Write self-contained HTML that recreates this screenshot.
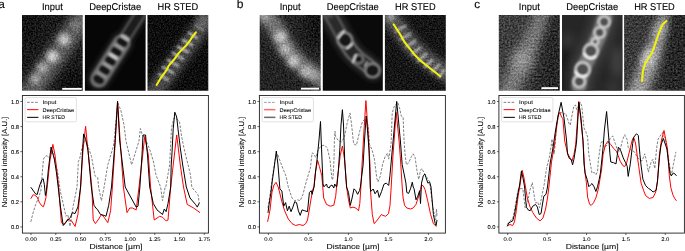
<!DOCTYPE html>
<html><head><meta charset="utf-8"><style>
html,body{margin:0;padding:0;background:#fff;width:685px;height:251px;overflow:hidden}
svg{display:block}
text{font-family:"Liberation Sans",sans-serif}
</style></head><body>
<svg xmlns="http://www.w3.org/2000/svg" width="685" height="251" viewBox="0 0 685 251">
<defs>
<clipPath id="clip22"><rect x="22.4" y="95.5" width="186.0" height="137.6"/></clipPath>
<clipPath id="clip259"><rect x="259.4" y="95.5" width="186.0" height="137.6"/></clipPath>
<clipPath id="clip498"><rect x="498.9" y="95.5" width="185.5" height="137.6"/></clipPath>
<filter id="b0_6" x="-50%" y="-50%" width="200%" height="200%"><feGaussianBlur stdDeviation="0.6"/></filter>
<filter id="b0_7" x="-50%" y="-50%" width="200%" height="200%"><feGaussianBlur stdDeviation="0.7"/></filter>
<filter id="b0_8" x="-50%" y="-50%" width="200%" height="200%"><feGaussianBlur stdDeviation="0.8"/></filter>
<filter id="b0_9" x="-50%" y="-50%" width="200%" height="200%"><feGaussianBlur stdDeviation="0.9"/></filter>
<filter id="b1" x="-50%" y="-50%" width="200%" height="200%"><feGaussianBlur stdDeviation="1"/></filter>
<filter id="b1_2" x="-50%" y="-50%" width="200%" height="200%"><feGaussianBlur stdDeviation="1.2"/></filter>
<filter id="b1_5" x="-50%" y="-50%" width="200%" height="200%"><feGaussianBlur stdDeviation="1.5"/></filter>
<filter id="b2" x="-50%" y="-50%" width="200%" height="200%"><feGaussianBlur stdDeviation="2"/></filter>
<filter id="b2_5" x="-50%" y="-50%" width="200%" height="200%"><feGaussianBlur stdDeviation="2.5"/></filter>
<filter id="b3" x="-50%" y="-50%" width="200%" height="200%"><feGaussianBlur stdDeviation="3"/></filter>
<filter id="b3_5" x="-50%" y="-50%" width="200%" height="200%"><feGaussianBlur stdDeviation="3.5"/></filter>
<filter id="b4" x="-50%" y="-50%" width="200%" height="200%"><feGaussianBlur stdDeviation="4"/></filter>
<filter id="b4_5" x="-50%" y="-50%" width="200%" height="200%"><feGaussianBlur stdDeviation="4.5"/></filter>
<filter id="b5" x="-50%" y="-50%" width="200%" height="200%"><feGaussianBlur stdDeviation="5"/></filter>
<filter id="b5_5" x="-50%" y="-50%" width="200%" height="200%"><feGaussianBlur stdDeviation="5.5"/></filter>
<filter id="b6" x="-50%" y="-50%" width="200%" height="200%"><feGaussianBlur stdDeviation="6"/></filter>
<filter id="b7" x="-50%" y="-50%" width="200%" height="200%"><feGaussianBlur stdDeviation="7"/></filter>
<filter id="b8" x="-50%" y="-50%" width="200%" height="200%"><feGaussianBlur stdDeviation="8"/></filter>
<filter id="nz1" filterUnits="userSpaceOnUse" x="0" y="0" width="685" height="251" color-interpolation-filters="sRGB"><feTurbulence type="fractalNoise" baseFrequency="0.6" numOctaves="2" seed="3" result="t"/><feColorMatrix in="t" type="matrix" values="1 0 0 0 0  1 0 0 0 0  1 0 0 0 0  0 0 0 0 0.5" result="g"/><feComposite in="SourceGraphic" in2="g" operator="arithmetic" k1="0" k2="1" k3="0.76" k4="-0.19"/></filter>
<filter id="nz2" filterUnits="userSpaceOnUse" x="0" y="0" width="685" height="251" color-interpolation-filters="sRGB"><feTurbulence type="fractalNoise" baseFrequency="0.65" numOctaves="2" seed="7" result="t"/><feColorMatrix in="t" type="matrix" values="1 0 0 0 0  1 0 0 0 0  1 0 0 0 0  0 0 0 0 0.5" result="g"/><feComposite in="SourceGraphic" in2="g" operator="arithmetic" k1="0" k2="1" k3="0.68" k4="-0.17"/></filter>
<filter id="nz3" filterUnits="userSpaceOnUse" x="0" y="0" width="685" height="251" color-interpolation-filters="sRGB"><feTurbulence type="fractalNoise" baseFrequency="0.55" numOctaves="2" seed="11" result="t"/><feColorMatrix in="t" type="matrix" values="1 0 0 0 0  1 0 0 0 0  1 0 0 0 0  0 0 0 0 0.5" result="g"/><feComposite in="SourceGraphic" in2="g" operator="arithmetic" k1="0" k2="1" k3="0.9" k4="-0.225"/></filter><clipPath id="ica1"><rect x="22" y="15" width="60.70" height="75.70"/></clipPath><clipPath id="ica2"><rect x="84.9" y="15" width="60.70" height="75.70"/></clipPath><clipPath id="ica3"><rect x="147.5" y="15" width="60.80" height="75.70"/></clipPath><clipPath id="icb1"><rect x="259.7" y="15" width="61.00" height="75.70"/></clipPath><clipPath id="icb2"><rect x="322.8" y="15" width="60.00" height="75.70"/></clipPath><clipPath id="icb3"><rect x="384.9" y="15" width="60.90" height="75.70"/></clipPath><clipPath id="icc1"><rect x="498.8" y="15" width="61.00" height="75.70"/></clipPath><clipPath id="icc2"><rect x="562" y="15" width="60.50" height="75.70"/></clipPath><clipPath id="icc3"><rect x="624.1" y="15" width="61.40" height="75.70"/></clipPath>
<filter id="tb" x="-5%" y="-5%" width="110%" height="110%"><feGaussianBlur stdDeviation="0.3"/></filter>
</defs>
<rect width="685" height="251" fill="#fff"/>
<g clip-path="url(#ica1)"><g filter="url(#nz1)"><rect x="20" y="13" width="64.70" height="79.70" fill="#1a1a1a"/><g filter="url(#b4_5)"><line x1="27" y1="97" x2="88" y2="10" stroke="#5e5e5e" stroke-width="21" stroke-linecap="round"/></g><g filter="url(#b2_5)" fill="#c4c4c4"><circle cx="64" cy="39.5" r="6"/><circle cx="52.5" cy="56.5" r="6" fill="#d0d0d0"/><circle cx="42.5" cy="68" r="5.5" fill="#acacac"/><circle cx="35.5" cy="79" r="5" fill="#a8a8a8"/><circle cx="76" cy="25" r="5" fill="#7a7a7a"/></g><g filter="url(#b6)"><rect x="64" y="74" width="30" height="30" fill="#000" opacity="0.5"/><rect x="14" y="8" width="22" height="30" fill="#000" opacity="0.3"/></g></g></g><g clip-path="url(#ica2)"><g><rect x="82.9" y="13" width="64.70" height="79.70" fill="#060606"/><g transform="translate(98.6,79.5) rotate(-57.6)"><g filter="url(#b2_5)"><rect x="-10" y="-11" width="64" height="22" rx="11" fill="#262626"/><rect x="44" y="-8" width="42" height="16" rx="8" fill="#222"/></g><g filter="url(#b0_8)"><rect x="46" y="-6" width="40" height="12" rx="6" fill="#5a5a5a"/><rect x="48" y="-4.2" width="40" height="8.4" rx="4.2" fill="#1c1c1c"/><rect x="-8" y="-8.6" width="60" height="17.2" rx="8.6" fill="#767676"/><ellipse cx="0" cy="0" rx="4.4" ry="6.2" fill="#141414"/><ellipse cx="11" cy="0" rx="4.4" ry="6.2" fill="#141414"/><ellipse cx="22" cy="0" rx="4.4" ry="6.2" fill="#141414"/><ellipse cx="33" cy="0" rx="4.4" ry="6.2" fill="#141414"/><ellipse cx="44" cy="0" rx="4.4" ry="6.2" fill="#141414"/><ellipse cx="5.5" cy="0" rx="1.2" ry="5.6" fill="#a0a0a0"/><ellipse cx="16.5" cy="0" rx="1.2" ry="5.6" fill="#b4b4b4"/><ellipse cx="27.5" cy="0" rx="1.2" ry="5.6" fill="#f4f4f4"/><ellipse cx="38.5" cy="0" rx="1.2" ry="5.6" fill="#b0b0b0"/><ellipse cx="49.3" cy="0" rx="1.2" ry="5.6" fill="#d0d0d0"/></g></g></g></g><g clip-path="url(#ica3)"><g filter="url(#nz2)"><rect x="145.5" y="13" width="64.80" height="79.70" fill="#0e0e0e"/><g filter="url(#b3_5)"><line x1="151" y1="97" x2="214" y2="10" stroke="#4a4a4a" stroke-width="18" stroke-linecap="round"/></g><g filter="url(#b1_2)" stroke="#b4b4b4" stroke-width="2.6" stroke-linecap="round"><line x1="159" y1="74" x2="168" y2="80"/><line x1="163" y1="67" x2="173" y2="73"/><line x1="168" y1="60" x2="178" y2="66"/><line x1="173" y1="53" x2="183" y2="59"/><line x1="178" y1="47" x2="188" y2="52"/><line x1="183" y1="40" x2="192" y2="45"/><line x1="189" y1="33" x2="197" y2="38"/><line x1="196" y1="25" x2="203" y2="30" stroke="#888"/></g><g filter="url(#b3)"><circle cx="203" cy="21" r="6" fill="#6a6a6a"/></g></g></g><polyline points="156.6,85 161.2,77.3 164.7,72.7 167,69.3 168.6,65.8 171.6,62.3 174.6,58.9 176.2,56.6 178.6,53.1 182,49.6 186.6,45 190.1,40.4 193.1,35.8 195.9,32.3" fill="none" stroke="#f2f20a" stroke-width="2" stroke-linejoin="round" stroke-linecap="round"/><g clip-path="url(#icb1)"><g filter="url(#nz1)"><rect x="257.7" y="13" width="65.00" height="79.70" fill="#242424"/><g filter="url(#b3_5)"><polyline points="262,10 276,28 286,48 300,64 322,80" fill="none" stroke="#747474" stroke-width="17" stroke-linecap="round" stroke-linejoin="round"/></g><g filter="url(#b2_5)" fill="#c4c4c4"><circle cx="280.5" cy="37" r="6"/><circle cx="285.5" cy="49.5" r="5.5" fill="#b8b8b8"/><circle cx="293.5" cy="61" r="6"/><circle cx="306" cy="71.5" r="6" fill="#b4b4b4"/><circle cx="314" cy="75" r="4.5" fill="#a8a8a8"/><circle cx="265" cy="16" r="5" fill="#a0a0a0"/></g><g filter="url(#b6)"><rect x="306" y="6" width="30" height="40" fill="#000" opacity="0.45"/></g></g></g><g clip-path="url(#icb2)"><g><rect x="320.8" y="13" width="64.00" height="79.70" fill="#0a0a0a"/><g filter="url(#b2_5)"><polyline points="328,11 336,25 344,40 352,52 359,59 366,64 373,70" fill="none" stroke="#262626" stroke-width="22" stroke-linecap="round" stroke-linejoin="round"/></g><g filter="url(#b0_9)"><polyline points="328,11 336,25 344,40" fill="none" stroke="#606060" stroke-width="13" stroke-linecap="round" stroke-linejoin="round"/><polyline points="328,11 336,25 344,40" fill="none" stroke="#2a2a2a" stroke-width="9.5" stroke-linecap="round" stroke-linejoin="round"/><polyline points="344,40 352,52 359,59 366,64 373,70" fill="none" stroke="#747474" stroke-width="15" stroke-linecap="round" stroke-linejoin="round"/><polyline points="344,40 352,52 359,59 366,64 373,70" fill="none" stroke="#262626" stroke-width="11.5" stroke-linecap="round" stroke-linejoin="round"/><ellipse cx="372.5" cy="70.5" rx="8.3" ry="8" fill="#8a8a8a"/><ellipse cx="372.5" cy="70.5" rx="6.3" ry="6" fill="#141414"/><ellipse cx="345" cy="40" rx="9" ry="8.3" fill="#909090" transform="rotate(55 345 40)"/><ellipse cx="345" cy="40" rx="7" ry="6.3" fill="#121212" transform="rotate(55 345 40)"/><ellipse cx="358.5" cy="59" rx="5.6" ry="5.2" fill="#808080"/><ellipse cx="358.5" cy="59" rx="3.8" ry="3.5" fill="#141414"/></g><g filter="url(#b0_8)" stroke="#d8d8d8" stroke-width="2.2" fill="none" stroke-linecap="round"><line x1="338.5" y1="38" x2="344" y2="31"/><line x1="347" y1="48.5" x2="352" y2="44"/><line x1="353" y1="62" x2="356" y2="55"/><line x1="365" y1="66" x2="367" y2="62" stroke="#a0a0a0"/></g><g filter="url(#b2)"><circle cx="329" cy="14" r="4" fill="#5a5a5a"/></g></g></g><g clip-path="url(#icb3)"><g filter="url(#nz2)"><rect x="382.9" y="13" width="64.90" height="79.70" fill="#161616"/><g filter="url(#b3)"><polyline points="386,12 400,30 413,47 427,60 447,74" fill="none" stroke="#555" stroke-width="17" stroke-linecap="round" stroke-linejoin="round"/></g><g filter="url(#b1_2)" stroke="#b0b0b0" stroke-width="2.5" stroke-linecap="round"><line x1="396" y1="31" x2="405" y2="26"/><line x1="401" y1="39" x2="410" y2="34"/><line x1="406" y1="47" x2="415" y2="41"/><line x1="412" y1="54" x2="420" y2="48"/><line x1="418" y1="61" x2="426" y2="54"/><line x1="425" y1="67" x2="432" y2="60"/><line x1="432" y1="72" x2="439" y2="65"/><line x1="439" y1="77" x2="444" y2="70"/></g><g filter="url(#b2)"><circle cx="391" cy="17" r="4" fill="#a0a0a0"/></g></g></g><polyline points="393.6,24.4 399.5,33.3 404.6,42.2 409.7,48.6 414.8,55 419.9,60.1 426.3,65.2 432.6,70.3 440.3,76.2" fill="none" stroke="#f2f20a" stroke-width="2" stroke-linejoin="round" stroke-linecap="round"/><g clip-path="url(#icc1)"><g filter="url(#nz3)"><rect x="496.8" y="13" width="65.00" height="79.70" fill="#3e3e3e"/><g filter="url(#b5)"><line x1="506" y1="96" x2="548" y2="8" stroke="#7c7c7c" stroke-width="18" stroke-linecap="round"/></g><g filter="url(#b6)"><polygon points="551,10 570,10 570,95 532,95" fill="#282828"/><circle cx="521" cy="60" r="8" fill="#a4a4a4"/></g></g></g><g clip-path="url(#icc2)"><g><rect x="560" y="13" width="64.50" height="79.70" fill="#262626"/><g filter="url(#b4)"><polyline points="578,96 580,80 584,67 592,51 600,33 606,14" fill="none" stroke="#3c3c3c" stroke-width="26" stroke-linecap="round" stroke-linejoin="round"/><circle cx="568" cy="40" r="6" fill="#3a3a3a"/><ellipse cx="617" cy="62" rx="6" ry="16" fill="#424242"/><circle cx="613" cy="88" r="6" fill="#3a3a3a"/><rect x="562" y="50" width="7" height="45" fill="#141414"/></g><g filter="url(#b1_5)"><polyline points="579,86 581,76 584,67 592,51 600,33 605,17" fill="none" stroke="#7a7a7a" stroke-width="15" stroke-linecap="round" stroke-linejoin="round"/></g><g filter="url(#b0_9)" fill="#505050" stroke="#cfcfcf" stroke-width="2.4"><circle cx="604.2" cy="21.8" r="5.6"/><circle cx="599.6" cy="32.6" r="5.2"/><circle cx="590.8" cy="51" r="7"/><circle cx="582.6" cy="69.5" r="7.2"/><circle cx="579.2" cy="81.6" r="5.8"/><circle cx="595.2" cy="41.6" r="3.4"/></g><g filter="url(#b1)" fill="none" stroke="#f4f4f4" stroke-width="2.2"><path d="M584,53 A7,7 0 0 0 596,56"/><path d="M575.5,71 A7.2,7.2 0 0 0 587,75"/></g></g></g><g clip-path="url(#icc3)"><g filter="url(#nz3)"><rect x="622.1" y="13" width="65.40" height="79.70" fill="#3a3a3a"/><g filter="url(#b4)"><line x1="636" y1="96" x2="672" y2="10" stroke="#9a9a9a" stroke-width="18" stroke-linecap="round"/></g><g filter="url(#b5)"><polygon points="669,8 690,8 690,95 661,95" fill="#262626"/></g><g filter="url(#b3)"><ellipse cx="648" cy="58" rx="6" ry="11" fill="#c0c0c0" transform="rotate(25 648 58)"/><ellipse cx="660" cy="30" rx="5" ry="9" fill="#a8a8a8" transform="rotate(25 660 30)"/></g></g></g><polyline points="642,81.3 642.5,74.8 643.4,68.8 645.5,62.8 648.5,58.3 651.5,53.8 653.9,47.9 656.3,40.4 658.4,34.4 660.8,28.4 662.9,24 666.5,21" fill="none" stroke="#f2f20a" stroke-width="2" stroke-linejoin="round" stroke-linecap="round"/><rect x="62.2" y="87.9" width="19.6" height="1.9" fill="#fff"/><rect x="301" y="87.7" width="18" height="1.9" fill="#fff"/><rect x="541.4" y="87.2" width="16.6" height="1.9" fill="#fff"/>
<g clip-path="url(#clip22)">
<polyline points="30.8,221.8 33.0,213.0 35.7,204.4 38.5,198.0 41.0,190.0 42.5,170.0 43.5,159.0 45.0,156.5 47.0,155.7 49.0,157.5 50.5,156.0 52.0,150.0 53.5,152.0 55.0,161.0 56.8,168.5 58.6,177.6 59.5,187.0 60.5,192.0 63.0,203.0 66.0,216.3 67.8,214.5 70.0,226.4 73.3,205.3 77.0,187.0 78.4,161.4 79.6,159.0 82.0,148.0 84.5,140.0 86.7,142.0 89.1,149.5 91.5,156.7 93.0,165.0 95.0,175.8 97.7,177.6 98.6,187.0 101.4,200.7 104.1,187.0 107.8,164.8 113.3,146.5 114.2,141.0 116.0,120.0 117.8,102.5 121.0,111.0 124.0,125.0 126.0,141.0 131.6,164.8 139.0,141.0 140.4,128.5 142.0,134.1 144.3,137.3 147.0,143.0 149.5,148.8 153.3,161.0 156.0,174.9 160.6,187.0 162.5,200.7 163.5,195.0 165.2,187.0 165.8,187.0 169.6,165.0 171.5,128.0 174.0,118.0 177.0,119.0 179.5,122.0 181.6,136.3 183.5,146.0 185.8,155.8 188.6,166.9 190.5,175.0 191.8,187.0 194.5,190.7 196.4,192.5 198.2,195.2 199.1,202.6" fill="none" stroke="#7f7f7f" stroke-width="1.0" stroke-linejoin="round" stroke-dasharray="2.6,1.4"/>
<polyline points="30.8,198.7 33.2,194.7 34.8,195.2 37.2,197.1 39.5,202.7 41.9,205.9 43.5,206.7 45.1,201.0 45.9,197.9 47.5,184.3 50.0,160.0 52.9,144.4 55.0,155.0 57.0,172.0 58.6,187.0 61.4,222.7 64.1,224.5 67.8,219.0 71.5,220.9 75.1,226.4 77.9,214.5 80.6,187.0 83.0,150.0 85.6,126.3 87.0,141.0 91.8,187.0 93.2,220.0 95.4,223.6 98.7,219.0 101.4,214.5 104.1,217.2 107.8,222.7 110.6,210.8 112.4,187.0 115.3,141.0 117.6,101.4 120.2,141.0 123.4,187.0 127.0,212.6 129.8,208.0 132.5,208.0 136.2,209.9 139.0,187.0 142.7,155.0 144.7,136.5 148.3,155.0 150.6,187.0 154.2,220.0 157.0,218.1 159.7,216.3 162.5,217.2 166.1,220.9 168.0,220.0 170.7,187.0 173.2,165.0 176.7,134.9 180.3,165.0 183.5,187.0 187.2,204.4 193.6,208.0 200.0,212.6" fill="none" stroke="#ff0000" stroke-width="1.0" stroke-linejoin="round"/>
<polyline points="30.8,187.2 35.6,193.9 37.2,194.5 39.5,186.0 41.9,179.6 43.2,178.8 44.3,184.3 45.4,195.5 46.4,190.7 48.3,170.0 51.1,147.0 54.5,160.0 56.5,173.0 58.2,187.0 60.5,207.0 63.2,225.5 67.8,220.0 70.5,217.2 72.4,212.6 75.0,213.6 77.9,207.0 80.6,187.0 82.3,155.0 83.6,133.9 85.6,138.7 88.0,150.7 91.3,187.0 94.0,205.3 95.9,208.0 97.7,209.9 100.5,214.5 104.1,215.4 106.0,216.3 108.7,205.3 111.5,187.0 115.1,141.0 117.5,101.4 119.7,141.0 125.2,187.0 136.2,207.1 138.0,206.2 139.9,187.0 142.0,155.0 143.0,135.0 145.6,135.0 146.0,140.5 147.5,155.0 149.7,187.0 153.3,203.5 157.0,209.9 162.5,214.5 164.3,209.0 166.1,211.7 168.0,203.5 170.7,187.0 171.2,165.0 172.0,152.8 173.2,128.9 174.8,112.2 176.7,117.0 178.0,129.0 180.3,148.0 182.7,165.0 186.3,187.0 190.0,198.0 195.5,204.4 197.3,207.1 199.5,202.6" fill="none" stroke="#000000" stroke-width="1.0" stroke-linejoin="round"/>
</g>
<rect x="22.4" y="95.5" width="186.0" height="137.6" fill="none" stroke="#222" stroke-width="0.9"/>
<line x1="20.4" y1="226.90" x2="22.4" y2="226.90" stroke="#222" stroke-width="0.7"/>
<line x1="20.4" y1="201.82" x2="22.4" y2="201.82" stroke="#222" stroke-width="0.7"/>
<line x1="20.4" y1="176.74" x2="22.4" y2="176.74" stroke="#222" stroke-width="0.7"/>
<line x1="20.4" y1="151.66" x2="22.4" y2="151.66" stroke="#222" stroke-width="0.7"/>
<line x1="20.4" y1="126.58" x2="22.4" y2="126.58" stroke="#222" stroke-width="0.7"/>
<line x1="20.4" y1="101.50" x2="22.4" y2="101.50" stroke="#222" stroke-width="0.7"/>
<line x1="31.00" y1="233.1" x2="31.00" y2="235.0" stroke="#222" stroke-width="0.7"/>
<line x1="55.75" y1="233.1" x2="55.75" y2="235.0" stroke="#222" stroke-width="0.7"/>
<line x1="80.50" y1="233.1" x2="80.50" y2="235.0" stroke="#222" stroke-width="0.7"/>
<line x1="105.25" y1="233.1" x2="105.25" y2="235.0" stroke="#222" stroke-width="0.7"/>
<line x1="130.00" y1="233.1" x2="130.00" y2="235.0" stroke="#222" stroke-width="0.7"/>
<line x1="154.75" y1="233.1" x2="154.75" y2="235.0" stroke="#222" stroke-width="0.7"/>
<line x1="179.50" y1="233.1" x2="179.50" y2="235.0" stroke="#222" stroke-width="0.7"/>
<line x1="204.25" y1="233.1" x2="204.25" y2="235.0" stroke="#222" stroke-width="0.7"/>
<rect x="25.1" y="97.6" width="51.3" height="24.2" rx="1.3" fill="#fff" stroke="#d6d6d6" stroke-width="0.7"/>
<line x1="27.1" y1="102.35" x2="38.4" y2="102.35" stroke="#7f7f7f" stroke-width="1.0" stroke-dasharray="2.6,1.4"/>
<line x1="27.1" y1="109.65" x2="38.4" y2="109.65" stroke="#ff0000" stroke-width="1.0"/>
<line x1="27.1" y1="117.35" x2="38.4" y2="117.35" stroke="#000" stroke-width="1.0"/>
<g clip-path="url(#clip259)">
<polyline points="268.0,208.0 270.0,195.0 272.0,180.0 275.0,160.0 277.5,154.0 281.9,165.9 285.9,175.9 288.3,187.0 292.0,198.0 294.7,200.7 297.5,199.8 300.2,200.7 303.0,194.3 304.8,187.0 308.5,174.0 310.3,168.5 312.1,152.9 313.4,153.5 315.8,157.5 318.0,150.0 321.0,146.0 324.5,145.1 327.3,147.9 330.0,160.0 331.2,172.0 332.2,180.0 333.0,178.0 334.0,160.0 334.4,140.0 335.0,131.2 335.7,136.7 338.5,140.9 341.5,142.0 344.4,136.8 347.2,122.9 350.0,113.1 351.4,122.9 353.6,143.8 356.4,145.2 359.7,131.3 362.5,121.5 365.3,118.7 368.1,125.7 369.6,144.8 372.0,149.6 374.4,159.1 376.8,178.3 378.0,181.9 380.4,175.9 382.7,163.9 385.1,156.7 387.5,153.2 388.7,159.1 391.1,143.6 392.2,113.3 394.0,106.9 397.7,102.3 399.5,107.8 401.3,116.1 403.1,117.0 404.1,141.0 405.0,153.8 406.4,164.8 408.6,163.0 411.4,156.6 413.2,153.8 415.1,157.5 416.9,170.3 418.7,179.5 420.5,170.3 421.8,168.5 424.2,173.0 427.0,177.6 429.7,182.0 432.5,205.3 434.3,214.5 435.7,220.0 436.5,209.0 437.0,216.3" fill="none" stroke="#7f7f7f" stroke-width="1.0" stroke-linejoin="round" stroke-dasharray="2.6,1.4"/>
<polyline points="267.6,221.8 270.0,210.0 272.0,192.0 274.0,185.0 276.0,182.3 278.2,187.0 279.5,192.0 281.9,201.7 284.6,210.8 288.3,219.0 292.0,223.6 295.6,225.5 299.3,224.5 303.0,225.5 305.7,223.6 307.5,220.0 309.4,209.0 311.2,198.0 313.0,188.8 314.0,187.0 315.5,172.0 317.6,160.3 319.4,166.6 321.8,175.8 323.7,198.0 326.5,204.4 330.2,206.2 333.8,205.3 335.7,196.2 337.5,177.6 340.2,155.7 342.4,146.0 344.8,161.1 346.6,187.0 348.5,199.8 350.3,208.0 353.0,207.1 355.8,208.0 358.5,210.8 359.8,203.5 360.9,187.0 362.0,165.0 364.0,130.0 365.9,100.6 368.0,130.0 370.0,165.0 370.5,190.7 372.3,214.5 374.1,223.6 376.0,221.8 378.7,218.1 381.4,214.5 383.0,215.4 385.7,216.3 388.5,213.6 390.0,205.3 391.2,187.0 393.0,155.0 396.2,112.4 399.1,141.0 400.5,160.0 402.2,187.0 403.1,198.0 404.6,205.3 406.8,208.0 410.5,209.0 413.2,208.0 416.0,204.4 418.7,196.2 420.5,189.7 421.5,185.0 423.3,185.9 425.1,189.7 427.9,201.7 430.6,214.5 433.4,223.6 435.2,225.5 436.5,226.4" fill="none" stroke="#ff0000" stroke-width="1.0" stroke-linejoin="round"/>
<polyline points="268.0,212.9 269.0,204.9 271.0,192.0 272.4,180.0 274.5,165.0 276.3,151.0 278.0,165.0 279.9,189.0 281.9,191.0 283.7,206.2 285.6,202.6 287.4,210.8 289.2,206.2 291.0,211.7 292.9,207.1 294.7,201.7 296.5,202.6 298.4,210.8 300.2,215.4 302.0,209.9 304.8,210.8 307.5,211.7 309.4,192.5 311.2,190.7 312.1,194.3 314.0,187.0 315.5,172.0 317.0,160.0 319.0,140.0 320.5,121.5 321.2,140.0 322.0,160.0 323.0,183.8 324.0,186.8 326.5,184.0 327.4,187.0 329.2,188.0 330.2,186.0 332.0,185.0 333.8,188.0 334.7,184.0 336.6,187.0 337.1,184.0 338.4,170.3 339.9,147.9 341.0,125.0 342.4,109.7 343.5,125.0 344.8,163.0 346.6,187.0 348.5,192.5 350.3,205.3 352.1,198.0 354.0,188.8 355.8,190.7 357.6,194.3 359.5,190.7 360.4,187.0 363.1,165.0 364.5,140.0 366.2,116.0 367.5,130.0 369.0,150.0 370.3,187.8 370.8,191.4 373.2,189.0 375.1,193.8 377.5,190.2 379.2,197.4 381.6,191.4 383.9,184.3 386.3,183.1 388.7,185.5 389.9,175.9 393.1,141.0 396.7,101.4 400.4,141.0 402.2,164.8 404.1,174.0 405.9,183.1 406.8,192.5 408.6,193.4 410.5,188.8 412.3,182.2 413.2,187.0 414.1,188.8 416.0,199.8 417.8,196.2 419.6,190.7 420.5,203.5 421.5,183.1 423.3,175.8 424.8,174.0 426.0,177.6 427.9,183.1 429.7,182.2 431.0,187.0 433.4,214.5 435.2,223.6 436.1,225.5 437.0,220.0" fill="none" stroke="#000000" stroke-width="1.0" stroke-linejoin="round"/>
</g>
<rect x="259.4" y="95.5" width="186.0" height="137.6" fill="none" stroke="#222" stroke-width="0.9"/>
<line x1="257.4" y1="226.90" x2="259.4" y2="226.90" stroke="#222" stroke-width="0.7"/>
<line x1="257.4" y1="201.82" x2="259.4" y2="201.82" stroke="#222" stroke-width="0.7"/>
<line x1="257.4" y1="176.74" x2="259.4" y2="176.74" stroke="#222" stroke-width="0.7"/>
<line x1="257.4" y1="151.66" x2="259.4" y2="151.66" stroke="#222" stroke-width="0.7"/>
<line x1="257.4" y1="126.58" x2="259.4" y2="126.58" stroke="#222" stroke-width="0.7"/>
<line x1="257.4" y1="101.50" x2="259.4" y2="101.50" stroke="#222" stroke-width="0.7"/>
<line x1="268.40" y1="233.1" x2="268.40" y2="235.0" stroke="#222" stroke-width="0.7"/>
<line x1="308.40" y1="233.1" x2="308.40" y2="235.0" stroke="#222" stroke-width="0.7"/>
<line x1="348.40" y1="233.1" x2="348.40" y2="235.0" stroke="#222" stroke-width="0.7"/>
<line x1="388.40" y1="233.1" x2="388.40" y2="235.0" stroke="#222" stroke-width="0.7"/>
<line x1="428.40" y1="233.1" x2="428.40" y2="235.0" stroke="#222" stroke-width="0.7"/>
<rect x="262.1" y="97.6" width="51.3" height="24.2" rx="1.3" fill="#fff" stroke="#d6d6d6" stroke-width="0.7"/>
<line x1="264.1" y1="102.35" x2="275.4" y2="102.35" stroke="#9a9a9a" stroke-width="1.0" stroke-dasharray="2.6,1.4"/>
<line x1="264.1" y1="109.65" x2="275.4" y2="109.65" stroke="#ff6a6a" stroke-width="1.5"/>
<line x1="264.1" y1="117.35" x2="275.4" y2="117.35" stroke="#6a6a6a" stroke-width="1.5"/>
<g clip-path="url(#clip498)">
<polyline points="507.2,224.5 509.9,220.9 512.7,219.0 515.4,205.3 517.2,194.3 518.5,189.0 521.0,188.7 522.8,188.7 524.0,198.3 525.2,207.8 527.6,201.9 530.0,189.9 532.3,182.7 533.5,191.1 534.7,199.5 535.9,203.1 537.8,201.9 539.5,207.8 541.9,195.9 544.3,183.9 546.5,168.5 549.3,157.5 551.1,146.5 552.0,139.0 553.2,150.0 554.3,154.0 555.5,140.0 556.5,128.0 557.4,120.6 559.2,113.3 561.1,112.4 563.8,114.2 565.6,113.3 567.5,118.8 569.3,124.3 570.2,125.2 572.0,115.1 573.9,106.0 575.7,105.1 576.6,109.7 578.5,106.0 580.3,102.3 581.8,106.0 584.0,128.0 585.8,131.6 587.6,137.1 588.8,154.4 591.2,168.7 592.0,173.2 594.3,172.4 595.9,174.8 597.5,171.6 598.4,160.0 600.8,143.1 602.7,140.7 604.4,147.8 607.0,145.0 610.4,138.3 612.7,135.9 615.1,143.1 617.5,150.2 619.9,151.4 622.3,140.7 624.7,134.7 627.1,139.5 628.3,147.8 631.0,150.0 634.6,152.0 637.4,157.5 642.0,161.1 644.7,153.8 646.5,161.1 648.4,172.1 651.1,162.0 652.9,159.3 654.8,168.5 656.6,148.3 658.1,139.2 662.4,132.5 665.4,139.9 668.4,157.9 671.4,175.8 673.5,163.8 675.9,151.9" fill="none" stroke="#7f7f7f" stroke-width="1.0" stroke-linejoin="round" stroke-dasharray="2.6,1.4"/>
<polyline points="508.1,225.5 509.9,224.5 512.7,225.5 514.5,221.8 516.3,210.8 518.1,196.2 520.0,185.0 522.2,170.3 524.0,178.0 525.5,187.0 527.3,198.0 530.1,207.1 532.8,212.6 536.5,218.1 540.1,220.9 542.9,218.1 545.6,209.0 547.5,198.0 548.9,187.0 551.5,162.0 554.5,145.0 556.5,128.0 558.3,115.1 559.8,112.4 561.6,117.0 562.9,118.8 564.7,141.0 567.5,152.9 570.2,158.4 572.0,161.1 573.9,154.7 575.7,144.7 578.8,101.4 583.0,141.0 584.9,172.1 586.4,182.7 587.6,197.1 589.6,204.3 591.2,205.4 593.5,202.7 595.9,197.9 598.3,189.1 599.9,179.6 601.5,170.0 603.1,154.4 605.5,144.8 607.9,141.2 610.8,144.7 613.6,148.3 616.3,151.1 618.2,155.5 620.1,161.1 622.9,165.7 624.7,166.6 626.6,163.0 629.3,152.0 632.0,141.0 632.9,138.5 633.7,137.5 635.5,143.0 638.7,166.3 641.1,183.1 643.5,190.2 645.6,195.6 649.3,198.4 653.0,197.5 655.7,192.0 657.5,181.0 659.4,154.9 661.5,140.0 664.0,130.4 667.5,148.9 669.3,175.9 670.9,187.9 672.9,194.9 674.9,198.8 676.5,200.8" fill="none" stroke="#ff0000" stroke-width="1.0" stroke-linejoin="round"/>
<polyline points="507.2,226.4 509.0,222.7 510.8,221.8 512.7,220.9 514.5,214.5 516.3,203.5 518.1,192.5 519.6,185.0 521.4,171.2 523.0,178.0 524.6,187.0 525.5,198.0 526.4,207.1 528.2,209.9 530.1,210.8 532.8,206.2 535.5,204.4 537.4,207.1 539.2,214.5 541.0,213.6 542.0,207.1 543.8,196.2 546.0,194.3 547.5,187.0 550.2,163.0 552.9,148.3 555.6,130.0 558.0,116.0 561.1,102.3 564.0,118.0 566.6,141.0 567.5,153.8 569.3,158.4 571.1,159.3 572.6,164.8 573.9,159.3 575.7,148.3 576.6,141.0 578.8,102.3 581.0,118.0 583.0,141.0 584.0,163.9 585.2,173.5 587.2,179.6 588.8,186.7 590.4,185.1 592.0,183.5 594.0,186.7 595.9,191.5 597.5,186.7 599.1,179.6 600.4,173.2 601.9,159.1 603.1,147.2 604.4,130.0 606.6,111.5 608.1,130.0 609.0,141.0 609.9,153.8 610.8,162.0 613.6,162.7 616.0,163.9 617.2,155.6 618.4,147.2 620.8,150.8 623.2,157.9 625.6,162.7 627.2,166.3 628.2,176.4 630.3,163.9 632.7,143.6 633.7,137.3 636.5,133.7 638.3,135.5 639.9,154.4 641.0,165.0 642.9,179.2 645.6,185.6 648.4,188.3 651.1,190.1 653.0,192.0 654.8,191.1 656.2,190.1 657.5,181.0 659.4,157.9 661.0,145.0 663.3,138.4 666.9,148.9 669.9,172.8 671.3,175.9 673.3,173.0 674.9,173.9 676.5,175.8" fill="none" stroke="#000000" stroke-width="1.0" stroke-linejoin="round"/>
</g>
<rect x="498.9" y="95.5" width="185.5" height="137.6" fill="none" stroke="#222" stroke-width="0.9"/>
<line x1="496.9" y1="226.90" x2="498.9" y2="226.90" stroke="#222" stroke-width="0.7"/>
<line x1="496.9" y1="201.82" x2="498.9" y2="201.82" stroke="#222" stroke-width="0.7"/>
<line x1="496.9" y1="176.74" x2="498.9" y2="176.74" stroke="#222" stroke-width="0.7"/>
<line x1="496.9" y1="151.66" x2="498.9" y2="151.66" stroke="#222" stroke-width="0.7"/>
<line x1="496.9" y1="126.58" x2="498.9" y2="126.58" stroke="#222" stroke-width="0.7"/>
<line x1="496.9" y1="101.50" x2="498.9" y2="101.50" stroke="#222" stroke-width="0.7"/>
<line x1="507.70" y1="233.1" x2="507.70" y2="235.0" stroke="#222" stroke-width="0.7"/>
<line x1="547.10" y1="233.1" x2="547.10" y2="235.0" stroke="#222" stroke-width="0.7"/>
<line x1="586.50" y1="233.1" x2="586.50" y2="235.0" stroke="#222" stroke-width="0.7"/>
<line x1="625.90" y1="233.1" x2="625.90" y2="235.0" stroke="#222" stroke-width="0.7"/>
<line x1="665.30" y1="233.1" x2="665.30" y2="235.0" stroke="#222" stroke-width="0.7"/>
<rect x="501.6" y="97.6" width="51.3" height="24.2" rx="1.3" fill="#fff" stroke="#d6d6d6" stroke-width="0.7"/>
<line x1="503.6" y1="102.35" x2="514.9" y2="102.35" stroke="#7f7f7f" stroke-width="1.0" stroke-dasharray="2.6,1.4"/>
<line x1="503.6" y1="109.65" x2="514.9" y2="109.65" stroke="#ff0000" stroke-width="1.0"/>
<line x1="503.6" y1="117.35" x2="514.9" y2="117.35" stroke="#000" stroke-width="1.0"/>
<g filter="url(#tb)" font-family="Liberation Sans, sans-serif" fill="#000" text-rendering="geometricPrecision">
<text x="-1.8" y="7.9" font-size="11.7" stroke="#000" stroke-width="0.1">a</text>
<text x="236.7" y="8.0" font-size="12" stroke="#000" stroke-width="0.1">b</text>
<text x="474.3" y="7.9" font-size="11.7" stroke="#000" stroke-width="0.14">c</text>
<text x="52.4" y="9.75" font-size="9.9" text-anchor="middle" textLength="20.9" lengthAdjust="spacingAndGlyphs" stroke="#000" stroke-width="0.12">Input</text>
<text x="290.2" y="9.75" font-size="9.9" text-anchor="middle" textLength="20.9" lengthAdjust="spacingAndGlyphs" stroke="#000" stroke-width="0.12">Input</text>
<text x="529.3" y="9.75" font-size="9.9" text-anchor="middle" textLength="20.9" lengthAdjust="spacingAndGlyphs" stroke="#000" stroke-width="0.12">Input</text>
<text x="115.2" y="9.75" font-size="9.9" text-anchor="middle" textLength="52.0" lengthAdjust="spacingAndGlyphs" stroke="#000" stroke-width="0.12">DeepCristae</text>
<text x="352.8" y="9.75" font-size="9.9" text-anchor="middle" textLength="52.0" lengthAdjust="spacingAndGlyphs" stroke="#000" stroke-width="0.12">DeepCristae</text>
<text x="592.2" y="9.75" font-size="9.9" text-anchor="middle" textLength="52.0" lengthAdjust="spacingAndGlyphs" stroke="#000" stroke-width="0.12">DeepCristae</text>
<text x="177.9" y="9.75" font-size="9.9" text-anchor="middle" textLength="40.6" lengthAdjust="spacingAndGlyphs" stroke="#000" stroke-width="0.12">HR STED</text>
<text x="415.4" y="9.75" font-size="9.9" text-anchor="middle" textLength="40.6" lengthAdjust="spacingAndGlyphs" stroke="#000" stroke-width="0.12">HR STED</text>
<text x="654.5" y="9.75" font-size="9.9" text-anchor="middle" textLength="40.6" lengthAdjust="spacingAndGlyphs" stroke="#000" stroke-width="0.12">HR STED</text>
<text x="19.0" y="228.95" font-size="5.6" text-anchor="end" textLength="8.1" lengthAdjust="spacingAndGlyphs" stroke="#000" stroke-width="0.07">0.0</text>
<text x="19.0" y="203.87" font-size="5.6" text-anchor="end" textLength="8.1" lengthAdjust="spacingAndGlyphs" stroke="#000" stroke-width="0.07">0.2</text>
<text x="19.0" y="178.79" font-size="5.6" text-anchor="end" textLength="8.1" lengthAdjust="spacingAndGlyphs" stroke="#000" stroke-width="0.07">0.4</text>
<text x="19.0" y="153.71" font-size="5.6" text-anchor="end" textLength="8.1" lengthAdjust="spacingAndGlyphs" stroke="#000" stroke-width="0.07">0.6</text>
<text x="19.0" y="128.63" font-size="5.6" text-anchor="end" textLength="8.1" lengthAdjust="spacingAndGlyphs" stroke="#000" stroke-width="0.07">0.8</text>
<text x="19.0" y="103.55" font-size="5.6" text-anchor="end" textLength="8.1" lengthAdjust="spacingAndGlyphs" stroke="#000" stroke-width="0.07">1.0</text>
<text x="31.00" y="240.8" font-size="5.25" text-anchor="middle" textLength="11.6" lengthAdjust="spacingAndGlyphs" stroke="#000" stroke-width="0.07">0.00</text>
<text x="55.75" y="240.8" font-size="5.25" text-anchor="middle" textLength="11.6" lengthAdjust="spacingAndGlyphs" stroke="#000" stroke-width="0.07">0.25</text>
<text x="80.50" y="240.8" font-size="5.25" text-anchor="middle" textLength="11.6" lengthAdjust="spacingAndGlyphs" stroke="#000" stroke-width="0.07">0.50</text>
<text x="105.25" y="240.8" font-size="5.25" text-anchor="middle" textLength="11.6" lengthAdjust="spacingAndGlyphs" stroke="#000" stroke-width="0.07">0.75</text>
<text x="130.00" y="240.8" font-size="5.25" text-anchor="middle" textLength="11.6" lengthAdjust="spacingAndGlyphs" stroke="#000" stroke-width="0.07">1.00</text>
<text x="154.75" y="240.8" font-size="5.25" text-anchor="middle" textLength="11.6" lengthAdjust="spacingAndGlyphs" stroke="#000" stroke-width="0.07">1.25</text>
<text x="179.50" y="240.8" font-size="5.25" text-anchor="middle" textLength="11.6" lengthAdjust="spacingAndGlyphs" stroke="#000" stroke-width="0.07">1.50</text>
<text x="204.25" y="240.8" font-size="5.25" text-anchor="middle" textLength="11.6" lengthAdjust="spacingAndGlyphs" stroke="#000" stroke-width="0.07">1.75</text>
<text x="116.0" y="249.0" font-size="7.3" text-anchor="middle" textLength="53.0" lengthAdjust="spacingAndGlyphs" stroke="#000" stroke-width="0.06">Distance [µm]</text>
<text transform="translate(6.7,162.0) rotate(-90)" font-size="7.3" text-anchor="middle" textLength="90.5" lengthAdjust="spacingAndGlyphs" stroke="#000" stroke-width="0.06">Normalized intensity [A.U.]</text>
<text x="42.6" y="104.05" font-size="5.25" textLength="13.8" lengthAdjust="spacingAndGlyphs" stroke="#000" stroke-width="0.07">Input</text>
<text x="42.6" y="111.50" font-size="5.25" textLength="31.6" lengthAdjust="spacingAndGlyphs" stroke="#000" stroke-width="0.07">DeepCristae</text>
<text x="42.6" y="119.00" font-size="5.25" textLength="22.2" lengthAdjust="spacingAndGlyphs" stroke="#000" stroke-width="0.07">HR STED</text>
<text x="256.0" y="228.95" font-size="5.6" text-anchor="end" textLength="8.1" lengthAdjust="spacingAndGlyphs" stroke="#000" stroke-width="0.07">0.0</text>
<text x="256.0" y="203.87" font-size="5.6" text-anchor="end" textLength="8.1" lengthAdjust="spacingAndGlyphs" stroke="#000" stroke-width="0.07">0.2</text>
<text x="256.0" y="178.79" font-size="5.6" text-anchor="end" textLength="8.1" lengthAdjust="spacingAndGlyphs" stroke="#000" stroke-width="0.07">0.4</text>
<text x="256.0" y="153.71" font-size="5.6" text-anchor="end" textLength="8.1" lengthAdjust="spacingAndGlyphs" stroke="#000" stroke-width="0.07">0.6</text>
<text x="256.0" y="128.63" font-size="5.6" text-anchor="end" textLength="8.1" lengthAdjust="spacingAndGlyphs" stroke="#000" stroke-width="0.07">0.8</text>
<text x="256.0" y="103.55" font-size="5.6" text-anchor="end" textLength="8.1" lengthAdjust="spacingAndGlyphs" stroke="#000" stroke-width="0.07">1.0</text>
<text x="268.40" y="240.8" font-size="5.25" text-anchor="middle" textLength="8.2" lengthAdjust="spacingAndGlyphs" stroke="#000" stroke-width="0.07">0.0</text>
<text x="308.40" y="240.8" font-size="5.25" text-anchor="middle" textLength="8.2" lengthAdjust="spacingAndGlyphs" stroke="#000" stroke-width="0.07">0.5</text>
<text x="348.40" y="240.8" font-size="5.25" text-anchor="middle" textLength="8.2" lengthAdjust="spacingAndGlyphs" stroke="#000" stroke-width="0.07">1.0</text>
<text x="388.40" y="240.8" font-size="5.25" text-anchor="middle" textLength="8.2" lengthAdjust="spacingAndGlyphs" stroke="#000" stroke-width="0.07">1.5</text>
<text x="428.40" y="240.8" font-size="5.25" text-anchor="middle" textLength="8.2" lengthAdjust="spacingAndGlyphs" stroke="#000" stroke-width="0.07">2.0</text>
<text x="353.0" y="249.0" font-size="7.3" text-anchor="middle" textLength="53.0" lengthAdjust="spacingAndGlyphs" stroke="#000" stroke-width="0.06">Distance [µm]</text>
<text transform="translate(243.7,162.0) rotate(-90)" font-size="7.3" text-anchor="middle" textLength="90.5" lengthAdjust="spacingAndGlyphs" stroke="#000" stroke-width="0.06">Normalized intensity [A.U.]</text>
<text x="279.6" y="104.05" font-size="5.25" textLength="13.8" lengthAdjust="spacingAndGlyphs" stroke="#000" stroke-width="0.07">Input</text>
<text x="279.6" y="111.50" font-size="5.25" textLength="31.6" lengthAdjust="spacingAndGlyphs" stroke="#000" stroke-width="0.07">DeepCristae</text>
<text x="279.6" y="119.00" font-size="5.25" textLength="22.2" lengthAdjust="spacingAndGlyphs" stroke="#000" stroke-width="0.07">HR STED</text>
<text x="495.5" y="228.95" font-size="5.6" text-anchor="end" textLength="8.1" lengthAdjust="spacingAndGlyphs" stroke="#000" stroke-width="0.07">0.0</text>
<text x="495.5" y="203.87" font-size="5.6" text-anchor="end" textLength="8.1" lengthAdjust="spacingAndGlyphs" stroke="#000" stroke-width="0.07">0.2</text>
<text x="495.5" y="178.79" font-size="5.6" text-anchor="end" textLength="8.1" lengthAdjust="spacingAndGlyphs" stroke="#000" stroke-width="0.07">0.4</text>
<text x="495.5" y="153.71" font-size="5.6" text-anchor="end" textLength="8.1" lengthAdjust="spacingAndGlyphs" stroke="#000" stroke-width="0.07">0.6</text>
<text x="495.5" y="128.63" font-size="5.6" text-anchor="end" textLength="8.1" lengthAdjust="spacingAndGlyphs" stroke="#000" stroke-width="0.07">0.8</text>
<text x="495.5" y="103.55" font-size="5.6" text-anchor="end" textLength="8.1" lengthAdjust="spacingAndGlyphs" stroke="#000" stroke-width="0.07">1.0</text>
<text x="507.70" y="240.8" font-size="5.25" text-anchor="middle" textLength="8.2" lengthAdjust="spacingAndGlyphs" stroke="#000" stroke-width="0.07">0.0</text>
<text x="547.10" y="240.8" font-size="5.25" text-anchor="middle" textLength="8.2" lengthAdjust="spacingAndGlyphs" stroke="#000" stroke-width="0.07">0.5</text>
<text x="586.50" y="240.8" font-size="5.25" text-anchor="middle" textLength="8.2" lengthAdjust="spacingAndGlyphs" stroke="#000" stroke-width="0.07">1.0</text>
<text x="625.90" y="240.8" font-size="5.25" text-anchor="middle" textLength="8.2" lengthAdjust="spacingAndGlyphs" stroke="#000" stroke-width="0.07">1.5</text>
<text x="665.30" y="240.8" font-size="5.25" text-anchor="middle" textLength="8.2" lengthAdjust="spacingAndGlyphs" stroke="#000" stroke-width="0.07">2.0</text>
<text x="592.2" y="249.0" font-size="7.3" text-anchor="middle" textLength="53.0" lengthAdjust="spacingAndGlyphs" stroke="#000" stroke-width="0.06">Distance [µm]</text>
<text transform="translate(483.2,162.0) rotate(-90)" font-size="7.3" text-anchor="middle" textLength="90.5" lengthAdjust="spacingAndGlyphs" stroke="#000" stroke-width="0.06">Normalized intensity [A.U.]</text>
<text x="519.1" y="104.05" font-size="5.25" textLength="13.8" lengthAdjust="spacingAndGlyphs" stroke="#000" stroke-width="0.07">Input</text>
<text x="519.1" y="111.50" font-size="5.25" textLength="31.6" lengthAdjust="spacingAndGlyphs" stroke="#000" stroke-width="0.07">DeepCristae</text>
<text x="519.1" y="119.00" font-size="5.25" textLength="22.2" lengthAdjust="spacingAndGlyphs" stroke="#000" stroke-width="0.07">HR STED</text>
</g>
</svg>
</body></html>
